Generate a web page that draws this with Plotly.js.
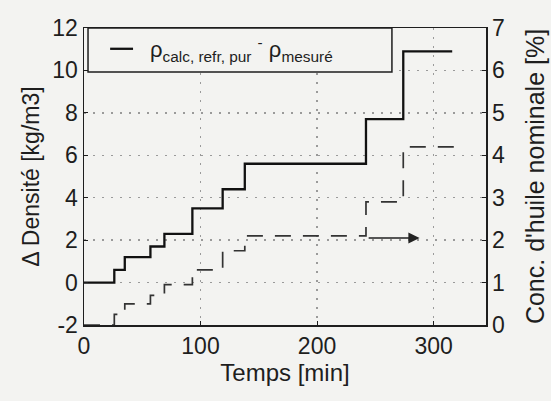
<!DOCTYPE html>
<html>
<head>
<meta charset="utf-8">
<script src="https://cdn.plot.ly/plotly-3.0.1.min.js"></script>
<style>html,body{margin:0;padding:0;background:#f3f3f1;}</style>
</head>
<body>
<div id="chart" style="width:551px;height:401px;"></div>
<script>
// Δ density (left axis, kg/m3) step levels, start time of each step (min)
const timeDensity = [0, 26, 35, 57, 69, 93, 119, 138, 242, 274, 316];
const deltaDensity = [0, 0.6, 1.2, 1.7, 2.3, 3.5, 4.4, 5.6, 7.7, 10.9, 10.9];

// nominal oil concentration (right axis, %) step levels
const timeConc = [0, 26, 35, 57, 69, 93, 119, 138, 242, 274, 318];
const concNominal = [0, 0.25, 0.5, 0.7, 0.95, 1.3, 1.75, 2.1, 2.9, 4.2, 4.2];

const xTicks = [0, 100, 200, 300];
const yLeftTicks = [-2, 0, 2, 4, 6, 8, 10, 12];
const yRightTicks = [0, 1, 2, 3, 4, 5, 6, 7];

const legendText = 'ρ<sub>calc, refr, pur</sub> <sup>-</sup> ρ<sub>mesuré</sub>';
const arrowFrom = 243, arrowTo = 288, arrowLevel = 2.05;

const font = 'Liberation Sans, Arial, sans-serif';
const ink = '#1e1e1e';

const traces = [
  {
    x: timeDensity, y: deltaDensity, type: 'scatter', mode: 'lines',
    line: {shape: 'hv', color: '#111', width: 2.3},
    yaxis: 'y', showlegend: false, hoverinfo: 'skip'
  },
  {
    x: timeConc, y: concNominal, type: 'scatter', mode: 'lines',
    line: {shape: 'hv', color: '#333', width: 1.7, dash: '16px,12px'},
    yaxis: 'y2', showlegend: false, hoverinfo: 'skip'
  }
];

const grid = {showgrid: true, gridcolor: '#9a9a9a', gridwidth: 1.3, griddash: '2px,7px'};

const layout = {
  width: 551, height: 401,
  margin: {l: 84, r: 65, t: 28, b: 76},
  paper_bgcolor: '#f3f3f1', plot_bgcolor: '#f3f3f1',
  font: {family: font, color: ink},
  showlegend: false,
  xaxis: Object.assign({
    range: [0, 345], tickvals: xTicks, ticktext: xTicks.map(String),
    ticks: 'inside', ticklen: 4, tickcolor: ink,
    showline: true, mirror: true, linecolor: ink, linewidth: 1.5,
    zeroline: false,
    tickfont: {size: 23, family: font, color: ink},
    title: {text: 'Temps [min]', font: {size: 24, family: font, color: ink}, standoff: 6}
  }, grid),
  yaxis: Object.assign({
    range: [-2, 12], tickvals: yLeftTicks, ticktext: yLeftTicks.map(String),
    ticks: 'inside', ticklen: 4, tickcolor: ink,
    showline: true, linecolor: ink, linewidth: 1.5, zeroline: false,
    tickfont: {size: 23, family: font, color: ink},
    title: {text: 'Δ Densité [kg/m3]', font: {size: 23, family: font, color: ink}, standoff: 6}
  }, grid),
  yaxis2: {
    overlaying: 'y', side: 'right',
    range: [0, 7], tickvals: yRightTicks, ticktext: yRightTicks.map(String),
    ticks: 'inside', ticklen: 4, tickcolor: ink,
    showline: true, linecolor: ink, linewidth: 1.5, showgrid: false, zeroline: false,
    tickfont: {size: 23, family: font, color: ink},
    title: {text: "Conc. d'huile nominale [%]", font: {size: 25, family: font, color: ink}, standoff: 22}
  },
  shapes: [
    {type: 'rect', xref: 'paper', yref: 'paper', x0: 0.01, x1: 0.766, y0: 0.852, y1: 1.0,
     line: {color: ink, width: 1.5}, fillcolor: '#f3f3f1', layer: 'above'},
    {type: 'line', xref: 'paper', yref: 'paper', x0: 0.065, x1: 0.122, y0: 0.93, y1: 0.93,
     line: {color: '#111', width: 2.3}, layer: 'above'}
  ],
  annotations: [
    {xref: 'paper', yref: 'paper', x: 0.16, y: 0.928, xanchor: 'left', yanchor: 'middle',
     text: legendText, showarrow: false, font: {size: 22, family: font, color: ink}},
    {xref: 'x', yref: 'y2', axref: 'x', ayref: 'y2', x: arrowTo, y: arrowLevel,
     ax: arrowFrom, ay: arrowLevel, text: '', showarrow: true, arrowhead: 2,
     arrowsize: 1.4, arrowwidth: 1.6, arrowcolor: '#222'}
  ]
};

Plotly.newPlot('chart', traces, layout, {staticPlot: true, displayModeBar: false});
</script>
</body>
</html>
